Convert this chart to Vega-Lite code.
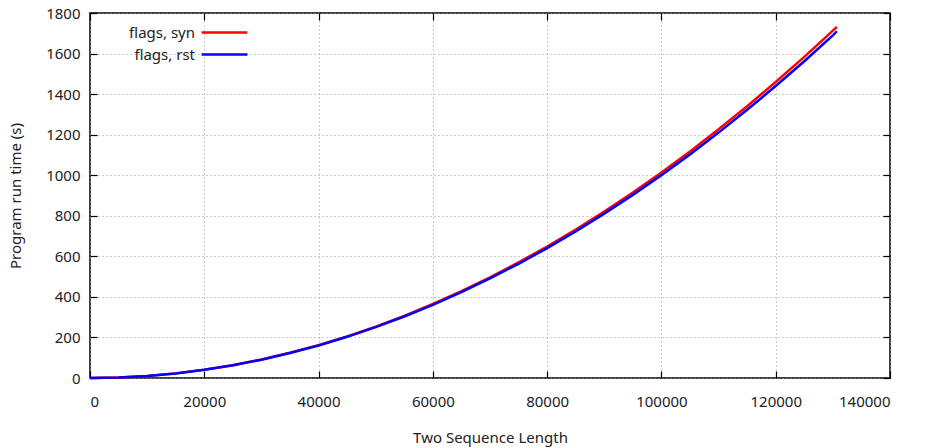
{
  "$schema": "https://vega.github.io/schema/vega-lite/v6.json",
  "autosize": "none",
  "width": 800,
  "height": 365,
  "padding": {"left": 90, "top": 13, "right": 37, "bottom": 70},
  "background": "white",
  "config": {
    "font": "Noto Sans",
    "view": {"stroke": "black", "strokeWidth": 1.5},
    "axis": {
      "labelFont": "Noto Sans", "labelFontSize": 15, "labelColor": "#222",
      "titleFont": "Noto Sans", "titleFontSize": 15, "titleFontWeight": "normal", "titleColor": "#222",
      "domain": false, "tickColor": "black", "tickWidth": 1.2, "tickSize": 7,
      "gridColor": "#999", "gridDash": [1, 3], "gridWidth": 1
    }
  },
  "resolve": {"axis": {"x": "independent", "y": "independent"}},
  "data": {"values": [
    {"n": 0, "t": 0, "s": "flags, syn"},
    {"n": 5000, "t": 2.5, "s": "flags, syn"},
    {"n": 10000, "t": 10.1, "s": "flags, syn"},
    {"n": 15000, "t": 22.8, "s": "flags, syn"},
    {"n": 20000, "t": 40.5, "s": "flags, syn"},
    {"n": 25000, "t": 63.3, "s": "flags, syn"},
    {"n": 30000, "t": 91.2, "s": "flags, syn"},
    {"n": 35000, "t": 124.2, "s": "flags, syn"},
    {"n": 40000, "t": 162.2, "s": "flags, syn"},
    {"n": 45000, "t": 205.2, "s": "flags, syn"},
    {"n": 50000, "t": 253.4, "s": "flags, syn"},
    {"n": 55000, "t": 306.6, "s": "flags, syn"},
    {"n": 60000, "t": 364.9, "s": "flags, syn"},
    {"n": 65000, "t": 428.2, "s": "flags, syn"},
    {"n": 70000, "t": 496.6, "s": "flags, syn"},
    {"n": 75000, "t": 570.1, "s": "flags, syn"},
    {"n": 80000, "t": 648.6, "s": "flags, syn"},
    {"n": 85000, "t": 732.3, "s": "flags, syn"},
    {"n": 90000, "t": 821.0, "s": "flags, syn"},
    {"n": 95000, "t": 914.7, "s": "flags, syn"},
    {"n": 100000, "t": 1013.5, "s": "flags, syn"},
    {"n": 105000, "t": 1117.4, "s": "flags, syn"},
    {"n": 110000, "t": 1226.3, "s": "flags, syn"},
    {"n": 115000, "t": 1340.4, "s": "flags, syn"},
    {"n": 120000, "t": 1459.4, "s": "flags, syn"},
    {"n": 125000, "t": 1583.6, "s": "flags, syn"},
    {"n": 130000, "t": 1712.8, "s": "flags, syn"},
    {"n": 130700, "t": 1731, "s": "flags, syn"},
    {"n": 0, "t": 0, "s": "flags, rst"},
    {"n": 5000, "t": 2.5, "s": "flags, rst"},
    {"n": 10000, "t": 10.0, "s": "flags, rst"},
    {"n": 15000, "t": 22.6, "s": "flags, rst"},
    {"n": 20000, "t": 40.2, "s": "flags, rst"},
    {"n": 25000, "t": 62.8, "s": "flags, rst"},
    {"n": 30000, "t": 90.4, "s": "flags, rst"},
    {"n": 35000, "t": 123.0, "s": "flags, rst"},
    {"n": 40000, "t": 160.6, "s": "flags, rst"},
    {"n": 45000, "t": 203.1, "s": "flags, rst"},
    {"n": 50000, "t": 250.7, "s": "flags, rst"},
    {"n": 55000, "t": 303.2, "s": "flags, rst"},
    {"n": 60000, "t": 360.8, "s": "flags, rst"},
    {"n": 65000, "t": 423.3, "s": "flags, rst"},
    {"n": 70000, "t": 490.8, "s": "flags, rst"},
    {"n": 75000, "t": 563.3, "s": "flags, rst"},
    {"n": 80000, "t": 640.7, "s": "flags, rst"},
    {"n": 85000, "t": 723.2, "s": "flags, rst"},
    {"n": 90000, "t": 810.6, "s": "flags, rst"},
    {"n": 95000, "t": 903.0, "s": "flags, rst"},
    {"n": 100000, "t": 1000.4, "s": "flags, rst"},
    {"n": 105000, "t": 1102.8, "s": "flags, rst"},
    {"n": 110000, "t": 1210.1, "s": "flags, rst"},
    {"n": 115000, "t": 1322.5, "s": "flags, rst"},
    {"n": 120000, "t": 1439.8, "s": "flags, rst"},
    {"n": 125000, "t": 1562.2, "s": "flags, rst"},
    {"n": 130000, "t": 1689.5, "s": "flags, rst"},
    {"n": 130700, "t": 1710, "s": "flags, rst"}
  ]},
  "layer": [
    {
      "transform": [{"filter": "datum.s === 'flags, syn'"}],
      "mark": {"type": "line", "strokeWidth": 2.5},
      "encoding": {
        "x": {"field": "n", "type": "quantitative", "scale": {"domain": [0, 140000], "nice": false},
          "axis": {"orient": "bottom", "title": "Two Sequence Length", "values": [0, 20000, 40000, 60000, 80000, 100000, 120000, 140000], "format": "d", "ticks": false, "labelPadding": 16, "titlePadding": 21, "grid": true}},
        "y": {"field": "t", "type": "quantitative", "scale": {"domain": [0, 1800], "nice": false},
          "axis": {"orient": "left", "title": "Program run time (s)", "values": [0, 200, 400, 600, 800, 1000, 1200, 1400, 1600, 1800], "format": "d", "ticks": false, "labelPadding": 10, "titlePadding": 22, "grid": true}},
        "color": {"field": "s", "type": "nominal", "scale": {"domain": ["flags, syn", "flags, rst"], "range": ["#ff0000", "#0000ff"]},
          "legend": {"title": null, "orient": "none", "legendX": 127, "legendY": 12, "symbolType": "M-5,0H5", "symbolSize": 84, "symbolStrokeWidth": 2.5, "labelAlign": "right", "labelOffset": -37, "labelFontSize": 15, "labelFont": "Noto Sans", "labelColor": "#222", "rowPadding": 6}}
      }
    },
    {
      "transform": [{"filter": "datum.s === 'flags, rst'"}],
      "mark": {"type": "line", "strokeWidth": 2.5},
      "encoding": {
        "x": {"field": "n", "type": "quantitative",
          "axis": {"orient": "top", "offset": -365, "title": null, "labels": false, "grid": false, "values": [0, 20000, 40000, 60000, 80000, 100000, 120000, 140000]}},
        "y": {"field": "t", "type": "quantitative",
          "axis": {"orient": "right", "offset": -800, "title": null, "labels": false, "grid": false, "values": [0, 200, 400, 600, 800, 1000, 1200, 1400, 1600, 1800]}},
        "color": {"field": "s", "type": "nominal"}
      }
    },
    {
      "transform": [{"filter": "datum.s === 'flags, rst'"}],
      "mark": {"type": "line", "strokeWidth": 2.5, "strokeOpacity": 0},
      "encoding": {
        "x": {"field": "n", "type": "quantitative",
          "axis": {"orient": "bottom", "offset": -365, "title": null, "labels": false, "grid": false, "values": [0, 20000, 40000, 60000, 80000, 100000, 120000, 140000]}},
        "y": {"field": "t", "type": "quantitative",
          "axis": {"orient": "left", "offset": -800, "title": null, "labels": false, "grid": false, "values": [0, 200, 400, 600, 800, 1000, 1200, 1400, 1600, 1800]}}
      }
    }
  ]
}
